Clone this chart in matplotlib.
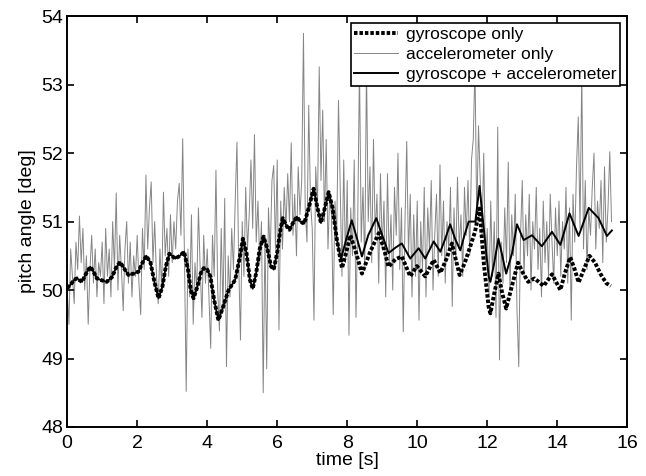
import numpy as np
import matplotlib
matplotlib.use("Agg")
import matplotlib.pyplot as plt

plt.rcParams['font.family'] = ['Liberation Sans', 'DejaVu Sans']

# shared part of gyro-only and fused estimate (they overlap until ~7.7 s)
t_common = [0, 0.1, 0.2, 0.28, 0.42, 0.55, 0.66, 0.75, 0.85, 1.0, 1.13, 1.28, 1.4, 1.51,
            1.62, 1.75, 1.9, 2.04, 2.15, 2.26, 2.38, 2.5, 2.61, 2.72, 2.82, 2.92, 3.09,
            3.22, 3.34, 3.45, 3.53, 3.61, 3.72, 3.82, 3.9, 4.0, 4.09, 4.2, 4.32, 4.45,
            4.61, 4.8, 4.92, 5.02, 5.12, 5.22, 5.3, 5.4, 5.5, 5.61, 5.72, 5.82, 5.9, 6.0,
            6.08, 6.16, 6.25, 6.35, 6.45, 6.56, 6.66, 6.77, 6.9, 7.04, 7.15, 7.25, 7.36,
            7.47, 7.58, 7.7]
v_common = [50.03, 50.08, 50.15, 50.17, 50.12, 50.25, 50.34, 50.27, 50.17, 50.14, 50.12,
            50.19, 50.33, 50.41, 50.32, 50.22, 50.24, 50.27, 50.4, 50.5, 50.4, 50.1, 49.88,
            50.05, 50.35, 50.53, 50.46, 50.5, 50.56, 50.3, 50.0, 49.88, 50.05, 50.25, 50.32,
            50.3, 50.2, 49.85, 49.56, 49.75, 50.0, 50.15, 50.45, 50.75, 50.55, 50.15, 50.02,
            50.25, 50.6, 50.78, 50.6, 50.35, 50.3, 50.55, 50.85, 51.05, 50.95, 50.88, 50.98,
            51.07, 51.0, 50.97, 51.2, 51.48, 51.2, 50.98, 51.2, 51.43, 51.2, 50.75]

t_fused_tail = [7.82, 7.95, 8.13, 8.28, 8.42, 8.6, 8.83, 9.0, 9.18, 9.38, 9.56, 9.8, 10.04,
                10.23, 10.47, 10.66, 10.8, 10.94, 11.08, 11.23, 11.35, 11.47, 11.66, 11.78,
                11.9, 12.04, 12.09, 12.2, 12.32, 12.43, 12.54, 12.71, 12.85, 13.04, 13.28,
                13.56, 13.85, 14.09, 14.35, 14.61, 14.9, 15.18, 15.42, 15.56]
v_fused_tail = [50.45, 50.7, 51.02, 50.75, 50.49, 50.8, 51.05, 50.8, 50.54, 50.62, 50.68,
                50.46, 50.61, 50.46, 50.71, 50.56, 50.75, 50.96, 50.75, 50.58, 50.8, 51.0,
                51.0, 51.52, 50.9, 50.2, 50.12, 50.4, 50.75, 50.5, 50.24, 50.54, 50.96, 50.73,
                50.8, 50.64, 50.85, 50.66, 51.12, 50.79, 51.2, 51.05, 50.79, 50.87]

t_gyro_tail = [7.85, 7.97, 8.09, 8.25, 8.42, 8.65, 8.9, 9.05, 9.18, 9.38, 9.56, 9.8, 9.99,
               10.23, 10.47, 10.66, 10.83, 10.99, 11.1, 11.21, 11.36, 11.51, 11.65, 11.78,
               11.9, 12.04, 12.09, 12.2, 12.32, 12.43, 12.54, 12.7, 12.88, 13.02, 13.17,
               13.35, 13.61, 13.85, 14.09, 14.22, 14.37, 14.5, 14.61, 14.76, 14.92, 15.08,
               15.23, 15.4, 15.53]
v_gyro_tail = [50.32, 50.55, 50.8, 50.55, 50.24, 50.55, 50.83, 50.6, 50.34, 50.45, 50.49,
               50.2, 50.35, 50.2, 50.44, 50.25, 50.45, 50.68, 50.45, 50.22, 50.4, 50.63,
               50.85, 51.19, 50.4, 49.75, 49.66, 49.95, 50.24, 49.95, 49.73, 50.05, 50.4,
               50.25, 50.12, 50.17, 50.06, 50.23, 50.0, 50.25, 50.48, 50.3, 50.11, 50.3,
               50.5, 50.4, 50.24, 50.1, 50.06]

# accelerometer samples, one every 0.05 s
acc_dt = 0.05
acc = [
    50.0, 49.5, 50.6, 50.2, 49.8, 50.7, 50.3, 51.08, 50.4, 50.9, 50.0, 50.5, 49.5, 50.3, 50.8, 50.1, 50.6, 49.9, 50.4, 50.2,
    50.7, 49.8, 50.9, 50.2, 50.6, 49.9, 51.0, 50.3, 51.42, 50.0, 50.8, 50.3, 49.7, 50.6, 51.0, 50.1, 50.7, 49.9, 50.5, 50.2,
    50.8, 50.1, 49.64, 50.9, 50.3, 51.68, 50.6, 51.2, 51.58, 50.4, 51.0, 50.2, 49.8, 50.6, 50.0, 51.43, 50.5, 50.9, 50.2, 51.1,
    50.4, 51.0, 50.6, 51.3, 51.56, 50.8, 52.21, 50.5, 48.52, 50.6, 49.9, 51.1, 49.5, 50.4, 50.0, 51.2, 50.3, 49.6, 50.8, 50.1,
    50.6, 49.9, 49.15, 50.8, 50.2, 51.75, 50.0, 49.4, 50.9, 49.7, 51.34, 48.88, 50.5, 49.9, 50.9, 50.3, 51.3, 52.16, 50.4, 49.27,
    51.0, 50.2, 51.5, 50.6, 51.1, 51.9, 50.9, 52.27, 50.7, 51.3, 50.4, 51.0, 48.5, 50.8, 48.85, 51.2, 50.5, 51.6, 51.82, 50.6,
    51.9, 49.42, 51.3, 50.6, 51.5, 50.9, 51.7, 51.0, 52.15, 50.8, 51.4, 50.5, 51.8, 51.1, 51.6, 53.75, 51.2, 50.7, 52.7, 51.3,
    50.9, 49.56, 51.8, 51.2, 53.26, 51.6, 52.63, 51.0, 52.2, 50.6, 51.4, 51.1, 49.64, 51.3, 50.8, 52.77, 51.5, 50.2, 51.9, 50.4,
    51.6, 49.34, 51.2, 50.5, 51.9, 49.6, 51.0, 53.3, 50.7, 51.5, 50.3, 53.3, 51.0, 51.8, 50.4, 52.2, 50.8, 51.4, 50.1, 51.7,
    50.6, 51.3, 49.9, 51.7, 50.4, 51.1, 50.0, 51.5, 50.8, 52.0, 50.3, 51.2, 49.39, 51.0, 52.17, 50.5, 51.4, 49.9, 51.1, 50.2,
    51.3, 49.56, 51.0, 50.3, 51.5, 49.9, 51.2, 50.6, 51.6, 50.0, 50.8, 51.4, 50.2, 51.83, 50.5, 51.3, 50.1, 51.0, 50.6, 51.5,
    49.76, 51.2, 50.4, 51.65, 50.6, 51.1, 50.2, 51.5, 50.8, 51.6, 50.5, 51.9, 52.2, 53.3, 51.0, 52.4, 51.6, 50.8, 52.0, 50.4,
    50.9, 49.9, 51.3, 50.2, 51.0, 49.6, 52.38, 48.98, 50.7, 50.1, 51.2, 50.4, 51.87, 50.0, 51.1, 50.5, 51.4, 49.7, 48.88, 50.8,
    51.6, 50.2, 51.1, 50.5, 51.4, 50.0, 51.0, 50.6, 51.5, 50.3, 50.9, 49.9, 51.3, 50.4, 51.0, 50.2, 51.4, 50.7, 50.1, 51.2,
    50.5, 51.3, 50.2, 51.0, 50.6, 51.5, 50.1, 51.2, 49.56, 51.4, 50.7, 51.8, 52.53, 50.9, 53.2, 50.6, 51.6, 50.3, 51.2, 50.8,
    51.5, 52.0, 50.6, 51.3, 50.9, 51.6, 50.4, 51.8, 50.7, 51.2, 52.02, 51.0,
]
t_acc = np.arange(len(acc)) * acc_dt

t_gyro = t_common + t_gyro_tail
v_gyro = v_common + v_gyro_tail
t_fused = t_common + t_fused_tail
v_fused = v_common + v_fused_tail

fig = plt.figure(figsize=(6.46, 4.76), dpi=100)
ax = fig.add_axes([0.104, 0.103, 0.867, 0.863])

h_acc, = ax.plot(t_acc, acc, color='#858585', lw=0.7, zorder=1)
h_gyro, = ax.plot(t_gyro, v_gyro, color='black', lw=2.8, ls=(0, (0.9, 0.5)), zorder=2)
h_fused, = ax.plot(t_fused, v_fused, color='black', lw=1.4, zorder=3)

ax.set_xlim(0, 16)
ax.set_ylim(48, 54)
ax.set_xticks(range(0, 17, 2))
ax.set_yticks(range(48, 55))
ax.tick_params(direction='in', top=True, right=True, labelsize=14, length=5, width=1.2, pad=3)
ax.tick_params(axis='x', pad=6)
for s in ax.spines.values():
    s.set_linewidth(1.4)

ax.set_xlabel('time [s]', fontsize=14, labelpad=0)
ax.set_ylabel('pitch angle [deg]', fontsize=14, labelpad=4)

leg = ax.legend([h_gyro, h_acc, h_fused],
                ['gyroscope only', 'accelerometer only', 'gyroscope + accelerometer'],
                loc='upper right', bbox_to_anchor=(0.9875, 0.9835), fontsize=12.5, frameon=True,
                fancybox=False, edgecolor='black', framealpha=1, borderpad=0.2,
                labelspacing=0.3, handlelength=2.5, handletextpad=0.5, borderaxespad=0.0)
leg.get_frame().set_linewidth(1.2)

fig.savefig('out.png', dpi=100)
